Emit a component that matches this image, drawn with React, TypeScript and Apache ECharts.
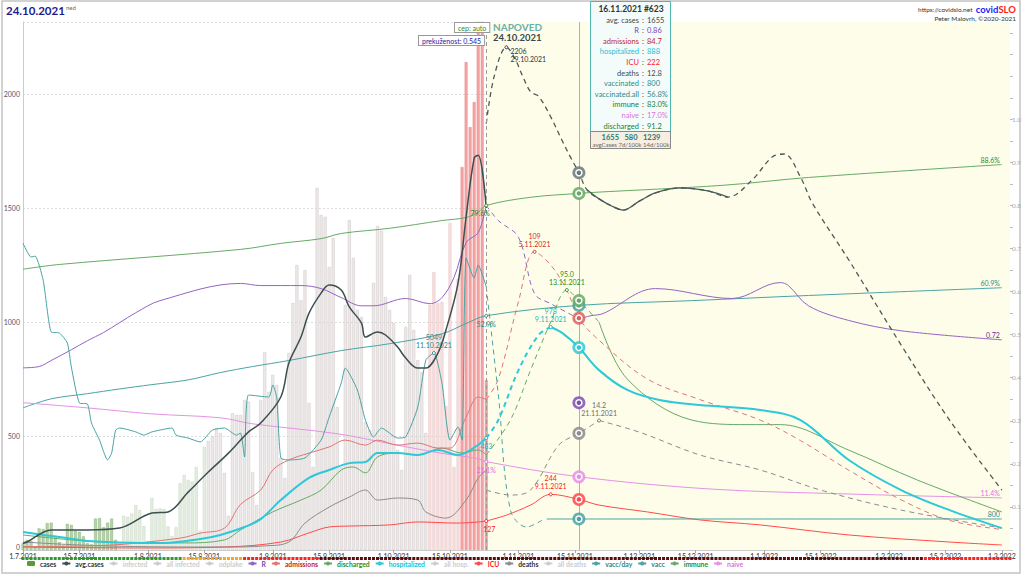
import React, { useEffect, useRef } from 'react';
import * as echarts from 'echarts';

const FONT = 'Lato, "DejaVu Sans", sans-serif';

// ---- categories: one per day, 1.7.2021 .. 3.3.2022
const dates: string[] = [];
for (let i = 0; i < 246; i++) {
  const d = new Date(2021, 6, 1 + i);
  dates.push(`${d.getDate()}.${d.getMonth() + 1}.${d.getFullYear()}`);
}

// ---- daily cases (1.7.2021 .. 24.10.2021)
const cases = [
  30, 45, 40, 15, 95, 92, 118, 120, 60, 35, 20, 115, 110, 85, 80, 60, 30, 25, 138, 140, 100, 120, 138, 45, 30, 150, 145, 160, 197, 175, 105,
  40, 228, 180, 182, 180, 103, 60, 100, 293, 329, 307, 300, 364, 85, 452, 478, 500, 535, 513, 338, 150, 600, 592, 592, 658, 650, 342, 197, 658, 868, 693,
  768, 724, 404, 316, 864, 1083, 1250, 1096, 1228, 645, 364, 1588, 1469, 1461, 1241, 1368, 627, 364, 1075, 1447, 1281, 1053, 1022, 560, 526, 1171, 1421, 1400, 1110, 1053,
  996, 439, 351, 978, 1206, 965, 833, 780, 513, 1075, 1219, 1083, 1088, 632, 1434, 364, 1190, 1680, 2140, 1855, 1965, 2600, 2500, 745,
];

// ---- lines (day index, value) ; left axis units
const avgDays = [0, 1, 7, 16, 24, 32, 36, 41, 46, 51, 56, 59, 64, 66, 69, 71, 74, 76, 79, 81, 84, 85, 88, 90, 93, 95, 98, 100, 103, 105, 108, 110, 112, 113, 115];
const avgVals = [30, 35, 88, 88, 96, 162, 167, 254, 342, 425, 518, 557, 671, 820, 934, 1039, 1127, 1162, 1140, 1066, 996, 934, 956, 943, 890, 842, 798, 798, 864, 965, 1171, 1461, 1719, 1732, 1500];
const avgFcDays = [115, 117, 120, 122, 124, 126, 128, 131, 134, 136, 138, 140, 143, 146, 149, 153, 157, 163, 170, 175, 181, 186, 189, 193, 196, 205, 218, 230, 243];
const avgFcVals = [1870, 2080, 2205, 2160, 2080, 2010, 1990, 1900, 1790, 1720, 1655, 1580, 1540, 1510, 1491, 1530, 1566, 1588, 1575, 1548, 1623, 1724, 1737, 1636, 1520, 1272, 899, 570, 263];

const hospDays = [0, 5, 9, 16, 30, 35, 44, 49, 55, 59, 64, 71, 76, 81, 85, 88, 93, 98, 103, 108, 113, 115];
const hospVals = [79, 66, 57, 40, 31, 31, 48, 66, 101, 135, 219, 316, 351, 381, 386, 425, 425, 417, 439, 417, 461, 491];
const hospFcDays = [115, 118, 123, 128, 131, 134, 138, 143, 150, 158, 168, 183, 193, 205, 218, 230, 243];
const hospFcVals = [491, 570, 789, 943, 978, 950, 888, 789, 702, 658, 636, 614, 570, 395, 263, 175, 96];

const admDays = [0, 20, 39, 44, 50, 54, 59, 62, 66, 71, 76, 80, 85, 88, 93, 98, 103, 106, 110, 113, 115];
const admVals = [15, 20, 52, 74, 96, 200, 263, 351, 395, 425, 452, 482, 460, 482, 460, 469, 447, 447, 583, 671, 660];
const admFcDays = [115, 118, 123, 127, 131, 135, 138, 143, 155, 168, 183, 193, 205, 218, 230, 243];
const admFcVals = [660, 750, 1090, 1308, 1250, 1140, 1017, 920, 750, 660, 570, 480, 350, 220, 130, 90];

const disDays = [0, 20, 40, 50, 54, 62, 69, 74, 79, 82, 85, 88, 93, 98, 104, 109, 113, 115];
const disVals = [66, 35, 31, 44, 88, 167, 219, 263, 351, 364, 338, 408, 425, 417, 447, 425, 439, 417];
const disFcDays = [115, 121, 126, 131, 135, 138, 143, 150, 166, 180, 188, 205, 222, 243];
const disFcVals = [417, 570, 789, 1000, 1140, 1094, 1000, 750, 570, 550, 550, 438, 307, 167];

const deaDays = [0, 20, 50, 60, 66, 70, 76, 81, 85, 88, 93, 98, 100, 105, 110, 113, 115];
const deaVals = [35, 18, 13, 18, 35, 118, 188, 232, 263, 219, 228, 219, 167, 140, 219, 316, 350];
const deaFcDays = [115, 121, 126, 133, 138, 143, 153, 168, 183, 198, 218, 243];
const deaFcVals = [263, 241, 263, 460, 512, 568, 517, 417, 351, 263, 175, 96];

const icuDays = [0, 30, 50, 64, 71, 76, 81, 91, 98, 108, 113, 115];
const icuVals = [13, 9, 13, 35, 75, 101, 105, 110, 123, 118, 123, 127];
const icuFcDays = [115, 120, 126, 131, 138, 143, 155, 168, 183, 205, 230, 243];
const icuFcVals = [127, 153, 197, 244, 222, 197, 167, 132, 110, 66, 35, 22];

const vdDays = [0, 2, 3, 5, 7, 9, 11, 12, 14, 16, 17, 19, 21, 22, 23, 24, 28, 30, 32, 37, 38, 41, 44, 47, 50, 53, 54, 55, 56, 61, 62, 63, 64, 66, 70, 74, 76, 79, 80, 83, 85, 87, 89, 93, 95, 98, 100, 102, 104, 106, 108, 109, 110, 112, 113, 115];
const vdVals = [1346, 1285, 1289, 1184, 956, 952, 908, 803, 645, 640, 557, 482, 395, 425, 526, 535, 518, 504, 518, 535, 504, 491, 474, 526, 535, 504, 513, 408, 680, 671, 724, 667, 404, 395, 404, 482, 583, 732, 798, 702, 570, 496, 535, 491, 496, 627, 833, 864, 732, 482, 540, 482, 1281, 1193, 1250, 1154];
const vdFcDays = [115, 118, 121, 125, 129];
const vdFcVals = [1154, 680, 175, 101, 132];
const vdFlatDays = [130, 243];
const vdFlatVals = [136, 136];

// ---- right axis (fractions)
const immDays = [0, 9, 54, 64, 74, 79, 91, 104, 110, 113, 115, 126, 138, 141, 174, 195, 243];
const immVals = [0.652, 0.663, 0.698, 0.712, 0.723, 0.735, 0.747, 0.765, 0.772, 0.784, 0.8, 0.819, 0.828, 0.83, 0.847, 0.865, 0.895];
const vaDays = [0, 7, 16, 24, 32, 41, 49, 57, 66, 79, 91, 104, 110, 115, 138, 166, 195, 243];
const vaVals = [0.33, 0.351, 0.363, 0.374, 0.384, 0.395, 0.412, 0.426, 0.44, 0.463, 0.479, 0.502, 0.526, 0.544, 0.568, 0.579, 0.591, 0.609];
const naDays = [0, 16, 32, 49, 57, 78, 91, 103, 113, 115, 138, 170, 205, 243];
const naVals = [0.342, 0.33, 0.316, 0.307, 0.293, 0.27, 0.247, 0.226, 0.212, 0.205, 0.17, 0.142, 0.13, 0.121];
const rDays = [0, 4, 7, 12, 16, 20, 24, 28, 34, 54, 59, 69, 74, 79, 84, 87, 95, 101, 104, 107, 110, 113, 115];
const rVals = [0.423, 0.426, 0.44, 0.465, 0.486, 0.505, 0.528, 0.551, 0.579, 0.619, 0.614, 0.614, 0.607, 0.586, 0.567, 0.567, 0.584, 0.572, 0.586, 0.633, 0.714, 0.737, 0.8];
const rFcDays = [115, 118, 123, 127, 131, 138, 141, 144, 157, 176, 188, 190, 195, 205, 218, 243];
const rFcVals = [0.8, 0.765, 0.726, 0.595, 0.572, 0.537, 0.544, 0.549, 0.607, 0.584, 0.621, 0.614, 0.567, 0.533, 0.509, 0.488];

// ---- date band phases
const phaseStart = [0, 40, 55, 74, 224];
const phaseColor = ['#2e9a2e', '#f5a623', '#ff2020', '#5c0c0c', '#ff2020'];

// ---- tooltip box
const tipTitle = '16.11.2021 #623';
const tipLabels = ['avg. cases', 'R', 'admissions', 'hospitalized', 'ICU', 'deaths', 'vaccinated', 'vaccinated.all', 'immune', 'naive', 'discharged'];
const tipValues = ['1655', '0.86', '84.7', '888', '222', '12.8', '800', '56.8%', '83.0%', '17.0%', '91.2'];
const tipColors = ['#404848', '#7b3fb0', '#c02828', '#18c0d0', '#ff1a1a', '#404848', '#2a8a8a', '#2a8a8a', '#1f7f1f', '#e070e0', '#1f7f1f'];

// ---- legend
const legendNames = ['cases', 'avg.cases', 'infected', 'all infected', 'odplake', 'R', 'admissions', 'discharged', 'hospitalized', 'all hosp.', 'ICU', 'deaths', 'all deaths', 'vacc/day', 'vacc', 'immune', 'naive'];
const legendText = ['#333', '#333', '#bbb', '#bbb', '#bbb', '#7b3fb0', '#c02828', '#1f8f1f', '#18c0d0', '#bbb', '#ff1a1a', '#333', '#bbb', '#2a8a8a', '#2a8a8a', '#1f8f1f', '#e070e0'];
const hiddenNames = ['infected', 'all infected', 'odplake', 'all hosp.', 'all deaths'];

const C = {
  avg: '#3d4f4f', r: '#9464c4', adm: '#e27474', dis: '#66aa66', hosp: '#2ec8d8', icu: '#ff4a4a',
  dea: '#8c8c8c', vac: '#4aa4a4', imm: '#66aa66', naive: '#e592e5',
};

const Y_MAX = 2316;
const R_MAX = 1.226;

const pts = (d: number[], v: number[]) => d.map((x, i) => [x, v[i]]);
const sel = (d: number[], v: number[], lo: number, hi: number) =>
  d.map((x, i) => [x, v[i]]).filter((p) => p[0] >= lo && p[0] <= hi);
const ann = (d: number, v: number, text: string, color: string, pos: any = 'top', offset: number[] = [0, 0]) => ({
  coord: [d, v], symbol: 'circle', symbolSize: 3,
  itemStyle: { color: '#fff', borderColor: color, borderWidth: 1 },
  label: { show: true, position: pos, offset, distance: 2, formatter: text, color, fontSize: 7, lineHeight: 8, fontFamily: FONT },
});
const endLab = (d: number, v: number, text: string, color: string) => ({
  coord: [d, v], symbol: 'circle', symbolSize: 0,
  label: { show: true, position: 'left', distance: 2, offset: [0, -5], formatter: text, color, fontSize: 7, fontFamily: FONT },
});
const ring = (d: number, v: number, color: string) => [
  { coord: [d, v], symbol: 'circle', symbolSize: 13, itemStyle: { color, opacity: 0.85 }, label: { show: false } },
  { coord: [d, v], symbol: 'circle', symbolSize: 6, itemStyle: { color, borderColor: '#fff', borderWidth: 1.5 }, label: { show: false } },
];

const line = (name: string, data: any[], color: string, width: number, opts: any = {}) => ({
  type: 'line', name, data, symbol: 'none', z: 3, yAxisIndex: 0, smooth: 0.35,
  color, lineStyle: { color, width, type: opts.dash ? [5, 4] : 'solid' },
  ...opts.extra,
});

const TD = 138; // 16.11.2021

export default function App() {
  const ref = useRef<HTMLDivElement>(null);
  useEffect(() => {
    if (!ref.current) return;
    const chart = echarts.init(ref.current, undefined, { renderer: 'svg' });
    const isTick = (_i: number, v: string) => v.startsWith('1.') || v.startsWith('15.');

    const barData = cases.map((v, i) => {
      let color = 'rgba(232,225,225,0.75)', border = '#cfc6c6';
      if (i <= 23) { color = 'rgba(120,175,100,0.55)'; border = 'rgba(100,150,80,0.6)'; }
      else if (i <= 45) { color = 'rgba(205,225,198,0.55)'; border = '#c8d4c4'; }
      else if (i >= 109) { color = '#f3a3a3'; border = '#ec9090'; }
      else if (i >= 101) { color = 'rgba(246,218,218,0.9)'; border = '#e6c4c4'; }
      return { value: v, itemStyle: { color, borderColor: border, borderWidth: 0.5 } };
    });

    const bandData = dates.map((_, i) => {
      let k = 0;
      phaseStart.forEach((s, j) => { if (i >= s) k = j; });
      return { value: 1, itemStyle: { color: phaseColor[k] } };
    });

    const series: any[] = [
      {
        type: 'line', name: '_bg', data: [[0, 0]], symbol: 'none', z: 0, lineStyle: { opacity: 0 }, silent: true,
        markArea: { silent: true, itemStyle: { color: '#fdfdea' }, data: [[{ xAxis: 115 }, { xAxis: 245 }]] },
        markLine: {
          silent: true, symbol: 'none', label: { show: false },
          data: [
            { xAxis: 115, lineStyle: { color: '#9a9a9a', type: [4, 3], width: 1 } },
            { xAxis: TD, lineStyle: { color: '#b0b0b0', type: 'solid', width: 1 } },
          ],
        },
      },
      {
        type: 'bar', name: 'cases', data: barData, barWidth: 3, z: 1, clip: true, color: '#5a9a3a', silent: true,
      },
      ...hiddenNames.map((n) => ({ type: 'line', name: n, data: [], symbol: 'none', color: '#bbb' })),
      // right axis lines
      line('immune', pts(immDays, immVals), C.imm, 1, {
        extra: { yAxisIndex: 1, markPoint: { data: [ann(115, 0.8, '79.6%', '#2a8a2a', 'bottom', [-6, 0]), ...ring(TD, 0.828, C.imm), endLab(243, 0.895, '88.6%', '#2a8a2a')] } },
      }),
      line('vacc', pts(vaDays, vaVals), C.vac, 1, {
        extra: { yAxisIndex: 1, markPoint: { data: [ann(115, 0.544, '52.9%', '#2a8a8a', 'bottom'), ...ring(TD, 0.568, C.vac), endLab(243, 0.609, '60.9%', '#2a8a8a')] } },
      }),
      line('naive', pts(naDays, naVals), C.naive, 1, {
        extra: { yAxisIndex: 1, markPoint: { data: [ann(115, 0.205, '21.1%', '#e070e0', 'bottom'), ...ring(TD, 0.17, C.naive), endLab(243, 0.121, '11.4%', '#e070e0')] } },
      }),
      line('R', pts(rDays, rVals), C.r, 1, { extra: { yAxisIndex: 1 } }),
      line('R', sel(rFcDays, rFcVals, 115, TD), C.r, 1, { dash: true, extra: { yAxisIndex: 1 } }),
      line('R', sel(rFcDays, rFcVals, TD, 999), C.r, 1, {
        extra: { yAxisIndex: 1, markPoint: { data: [...ring(TD, 0.342, '#8050b0'), endLab(243, 0.488, '0.72', '#6a2a9a')] } },
      }),
      // left axis lines
      line('ICU', pts(icuDays, icuVals), C.icu, 1, { extra: { markPoint: { data: [ann(115, 127, '127', '#ff2020', 'bottom', [3, 0])] } } }),
      line('ICU', pts(icuFcDays, icuFcVals), C.icu, 1, {
        extra: { markPoint: { data: [ann(131, 244, '244\n9.11.2021', '#ff2020'), ...ring(TD, 222, C.icu)] } },
      }),
      line('deaths', pts(deaDays, deaVals), C.dea, 1),
      line('deaths', sel(deaFcDays, deaFcVals, 115, 143), C.dea, 1, {
        dash: true, extra: { markPoint: { data: [ann(143, 568, '14.2\n21.11.2021', '#707070'), ...ring(TD, 512, C.dea)] } },
      }),
      line('deaths', sel(deaFcDays, deaFcVals, 143, 999), C.dea, 1, { dash: true }),
      line('discharged', pts(disDays, disVals), C.dis, 1),
      line('discharged', sel(disFcDays, disFcVals, 115, 143), C.dis, 1, {
        dash: true, extra: { markPoint: { data: [ann(135, 1140, '95.0\n13.11.2021', '#1f8f1f'), ...ring(TD, 1094, C.dis)] } },
      }),
      line('discharged', sel(disFcDays, disFcVals, 143, 999), C.dis, 1),
      line('admissions', pts(admDays, admVals), C.adm, 1),
      line('admissions', pts(admFcDays, admFcVals), C.adm, 1, {
        dash: true, extra: { markPoint: { data: [ann(127, 1308, '109\n5.11.2021', '#d02a2a'), ...ring(TD, 1017, '#dc6060')] } },
      }),
      line('vacc/day', pts(vdDays, vdVals), C.vac, 1, {
        extra: { smooth: 0.2, markPoint: { data: [ann(102, 864, '5049\n11.10.2021', '#2a8a8a')] } },
      }),
      line('vacc/day', pts(vdFcDays, vdFcVals), C.vac, 1, { dash: true }),
      line('vacc/day', pts(vdFlatDays, vdFlatVals), C.vac, 1, {
        extra: { markPoint: { data: [...ring(TD, 136, C.vac), endLab(243, 136, '800', '#2a8a8a')] } },
      }),
      line('hospitalized', pts(hospDays, hospVals), C.hosp, 2, {
        extra: { markPoint: { data: [ann(115, 491, '483', '#18b8c8', 'bottom')] } },
      }),
      line('hospitalized', sel(hospFcDays, hospFcVals, 115, 131), C.hosp, 2, { dash: true }),
      line('hospitalized', sel(hospFcDays, hospFcVals, 131, 999), C.hosp, 2, {
        extra: { markPoint: { data: [ann(131, 978, '978\n9.11.2021', '#18b8c8'), ...ring(TD, 888, C.hosp)] } },
      }),
      line('avg.cases', pts(avgDays, avgVals), C.avg, 1.5),
      line('avg.cases', pts(avgFcDays, avgFcVals), '#4a5a5a', 1.3, {
        dash: true, extra: { markPoint: { data: [ann(120, 2205, '2206\n29.10.2021', '#333', 'right', [0, 8]), ...ring(TD, 1655, '#6a7878')] } },
      }),
      line('avg.cases', sel(avgFcDays, avgFcVals, 140, 175), '#4a5a5a', 1.3),
      {
        type: 'bar', name: '_band', xAxisIndex: 1, yAxisIndex: 2, data: bandData, barWidth: 3, silent: true,
      },
    ];

    const graphic: any[] = [
      { type: 'rect', shape: { x: 2, y: 1, width: 1018, height: 572 }, style: { fill: 'none', stroke: '#c4c4c4', lineWidth: 1.5 }, silent: true, z: -1 },
      { type: 'text', z: 100, x: 6, y: 4, style: { text: '24.10.2021', fill: '#1b1b8a', font: `bold 11.5px ${FONT}` } },
      { type: 'text', z: 100, x: 66, y: 4, style: { text: 'ned', fill: '#666', font: `6px ${FONT}` } },
      {
        type: 'text', z: 100, x: 1016, y: 3,
        style: {
          text: '{a|https://covidslo.net} {b|covid}{c|SLO}', align: 'right',
          rich: {
            a: { fontSize: 6.5, fill: '#333', fontFamily: FONT },
            b: { fontSize: 9.5, fontWeight: 'bold', fill: '#1a1aff', fontFamily: FONT },
            c: { fontSize: 9.5, fontWeight: 'bold', fill: '#ff1a1a', fontFamily: FONT },
          },
        },
      },
      { type: 'text', z: 100, x: 1016, y: 15, style: { text: 'Peter Malovrh, ©2020-2021', align: 'right', fill: '#333', font: `6.5px ${FONT}` } },
      {
        type: 'text', x: 455, y: 23, z: 100,
        style: { text: 'cep: auto', fill: '#2a8a2a', font: `7px ${FONT}`, backgroundColor: '#fff', borderColor: '#999', borderWidth: 1, padding: [1, 3] },
      },
      {
        type: 'text', x: 419, y: 36, z: 100,
        style: { text: 'prekuženost: 0.545', fill: '#2020a0', font: `7px ${FONT}`, backgroundColor: '#fff', borderColor: '#999', borderWidth: 1, padding: [1, 3] },
      },
      { type: 'text', x: 493, y: 22, z: 100, style: { text: 'NAPOVED', fill: '#6ab0b0', font: `bold 10px ${FONT}` } },
      { type: 'text', x: 493, y: 32, z: 100, style: { text: '24.10.2021', fill: '#3a4a4a', font: `bold 9.5px ${FONT}` } },
      // tooltip box
      { type: 'rect', z: 120, shape: { x: 590.5, y: 1.5, width: 80, height: 130 }, style: { fill: '#f3fcfb', stroke: '#4fb5ad', lineWidth: 1 } },
      { type: 'text', z: 121, x: 631, y: 9, style: { text: tipTitle, fill: '#333', font: `bold 8.5px ${FONT}`, align: 'center', verticalAlign: 'middle' } },
      ...tipLabels.flatMap((lab, i) => {
        const y = 20 + i * 10.6;
        return [
          { type: 'text', z: 121, x: 639, y, style: { text: lab, fill: tipColors[i], font: `7.5px ${FONT}`, align: 'right', verticalAlign: 'middle' } },
          { type: 'text', z: 121, x: 643, y, style: { text: ':', fill: '#333', font: `7.5px ${FONT}`, align: 'center', verticalAlign: 'middle' } },
          { type: 'text', z: 121, x: 647, y, style: { text: tipValues[i], fill: tipColors[i], font: `7.5px ${FONT}`, align: 'left', verticalAlign: 'middle' } },
        ];
      }),
      { type: 'rect', z: 120, shape: { x: 590.5, y: 131.5, width: 80, height: 17 }, style: { fill: '#f6eee0', stroke: '#888', lineWidth: 1 } },
      { type: 'text', z: 121, x: 631, y: 137, style: { text: '1655   580   1239', fill: '#2a7a7a', font: `bold 7.5px ${FONT}`, align: 'center', verticalAlign: 'middle' } },
      { type: 'text', z: 121, x: 631, y: 144.5, style: { text: 'avgCases 7d/100k 14d/100k', fill: '#666', font: `6px ${FONT}`, align: 'center', verticalAlign: 'middle' } },
    ];

    const option: any = {
      animation: false,
      backgroundColor: '#fff',
      textStyle: { fontFamily: FONT },
      grid: [
        { left: 23, right: 14, top: 22, bottom: 26 },
        { left: 23, right: 14, top: 557, height: 3 },
      ],
      xAxis: [
        {
          type: 'category', data: dates, boundaryGap: false, gridIndex: 0,
          axisLine: { show: true, lineStyle: { color: '#ccc' } },
          axisTick: { show: true, interval: isTick, length: 3, lineStyle: { color: '#aaa' } },
          axisLabel: { interval: isTick, fontSize: 7, color: '#333', margin: 2, fontFamily: FONT },
          splitLine: { show: false },
        },
        { type: 'category', data: dates, boundaryGap: false, gridIndex: 1, show: false },
      ],
      yAxis: [
        {
          type: 'value', min: 0, max: Y_MAX, interval: 500, position: 'left',
          axisLine: { show: true, lineStyle: { color: '#ccc' } }, axisTick: { show: false },
          axisLabel: {
            fontSize: 7, color: '#556', margin: 3, showMaxLabel: false,
            formatter: (v: number) => (v === 0 ? '{z|0}' : v % 500 === 0 ? String(v) : ''),
            rich: { z: { fontSize: 7, color: '#556', padding: [0, 0, 7, 0], fontFamily: FONT } },
          },
          splitLine: { show: true, lineStyle: { color: '#ddd', type: [2, 2] } },
        },
        {
          type: 'value', min: 0, max: R_MAX, interval: 0.05, position: 'right',
          axisLine: { show: false }, axisTick: { show: true, length: 3, lineStyle: { color: '#bbb' } },
          axisLabel: {
            fontSize: 6.5, color: '#aaa', margin: 2, showMaxLabel: false,
            formatter: (v: number) => { const k = Math.round(v * 100); return k % 10 === 0 && k >= 10 && k <= 100 ? (k / 100).toFixed(1) : ''; },
          },
          splitLine: { show: false },
        },
        { type: 'value', gridIndex: 1, min: 0, max: 1, show: false },
      ],
      legend: {
        left: 22, bottom: 4, itemWidth: 8, itemHeight: 5, itemGap: 5,
        textStyle: { fontSize: 6.8, fontWeight: 'bold', fontFamily: FONT },
        inactiveColor: '#ccc',
        data: legendNames.map((n, i) => ({ name: n, textStyle: { color: legendText[i] } })),
        selected: Object.fromEntries(hiddenNames.map((n) => [n, false])),
      },
      series,
      graphic,
    };
    chart.setOption(option);
    return () => chart.dispose();
  }, []);
  return <div ref={ref} style={{ position: 'absolute', left: 0, top: 0, width: 1024, height: 576 }} />;
}
